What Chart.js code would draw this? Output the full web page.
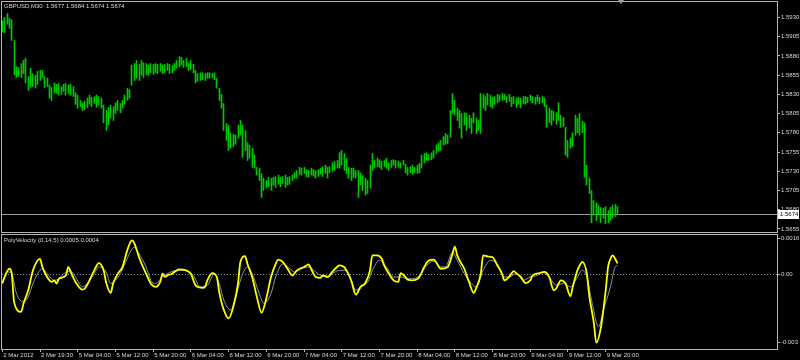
<!DOCTYPE html>
<html>
<head>
<meta charset="utf-8">
<title>GBPUSD,M30</title>
<script src="https://cdn.jsdelivr.net/npm/chart.js@4.4.1/dist/chart.umd.min.js"></script>
<style>
    html, body { margin: 0; padding: 0; background: #000; }
    #wrap { position: relative; width: 800px; height: 360px; overflow: hidden; background: #000; }
    #priceChart { position: absolute; left: 0; top: 0; }
    #velChart { position: absolute; left: 0; top: 233px; }
</style>
</head>
<body>
<div id="wrap">
    <canvas id="priceChart" width="800" height="233"></canvas>
    <canvas id="velChart" width="800" height="127"></canvas>
</div>
<script>
// GBPUSD M30, one entry per bar (bar 0 = 2 Mar 2012 11:30)
var symbolName = 'GBPUSD,M30';
var lastOHLC = [1.5677, 1.5684, 1.5674, 1.5674];

var highs = [
    1.5926,
    1.5930,1.5935,1.5929,1.5927,1.5900,1.5866,1.5865,1.5870,1.5874,1.5877,
    1.5853,1.5864,1.5857,1.5855,1.5860,1.5861,1.5861,1.5853,1.5851,1.5842,
    1.5839,1.5845,1.5843,1.5844,1.5840,1.5843,1.5844,1.5842,1.5843,1.5840,
    1.5832,1.5829,1.5822,1.5819,1.5821,1.5825,1.5829,1.5826,1.5827,1.5829,
    1.5827,1.5825,1.5816,1.5809,1.5813,1.5816,1.5814,1.5819,1.5822,1.5818,
    1.5822,1.5829,1.5838,1.5836,1.5868,1.5870,1.5874,1.5869,1.5874,1.5871,
    1.5870,1.5868,1.5870,1.5869,1.5870,1.5869,1.5870,1.5868,1.5869,1.5870,
    1.5869,1.5868,1.5870,1.5874,1.5879,1.5878,1.5874,1.5877,1.5871,1.5874,
    1.5869,1.5861,1.5857,1.5858,1.5858,1.5857,1.5858,1.5858,1.5857,1.5858,
    1.5851,1.5838,1.5830,1.5818,1.5792,1.5790,1.5780,1.5778,1.5777,1.5790,
    1.5796,1.5790,1.5783,1.5767,1.5764,1.5760,1.5751,1.5735,1.5734,1.5727,
    1.5721,1.5718,1.5722,1.5721,1.5722,1.5723,1.5725,1.5722,1.5723,1.5725,
    1.5722,1.5723,1.5725,1.5728,1.5731,1.5735,1.5734,1.5735,1.5732,1.5731,
    1.5734,1.5732,
    1.5731,1.5732,1.5734,1.5736,1.5738,1.5735,1.5736,1.5741,1.5743,
    1.5744,1.5754,1.5757,1.5753,1.5747,1.5735,1.5734,1.5734,1.5731,1.5731,
    1.5728,1.5725,1.5721,1.5718,1.5738,1.5753,1.5744,1.5747,1.5745,1.5743,
    1.5744,1.5747,1.5741,1.5744,1.5745,1.5744,1.5743,1.5741,1.5744,1.5739,
    1.5735,1.5736,1.5738,1.5735,1.5738,1.5740,1.5751,1.5753,1.5754,1.5752,
    1.5754,1.5757,1.5764,1.5767,1.5770,1.5775,1.5779,1.5777,1.5809,1.5831,
    1.5822,1.5812,1.5809,1.5805,1.5806,1.5805,1.5803,1.5799,1.5806,1.5799,
    1.5796,1.5831,1.5830,1.5827,1.5831,1.5829,1.5826,1.5827,1.5830,1.5829,
    1.5831,1.5830,1.5827,1.5830,1.5826,1.5827,1.5825,1.5826,1.5825,1.5827,
    1.5827,1.5826,1.5829,1.5827,1.5826,1.5829,1.5826,1.5827,1.5825,1.5816,
    1.5812,1.5809,1.5808,1.5806,1.5819,1.5803,1.5800,1.5787,1.5770,1.5773,
    1.5780,1.5803,1.5799,1.5805,1.5795,1.5793,1.5738,1.5721,1.5705,1.5692,
    1.5689,1.5686,1.5683,1.5682,1.5684,1.5679,1.5683,1.5686,1.5687,1.5684
];

var lows = [
    1.5911,
    1.5910,1.5921,1.5916,1.5900,1.5855,1.5852,1.5853,1.5852,1.5857,1.5845,
    1.5835,1.5839,1.5840,1.5838,1.5843,1.5848,1.5852,1.5839,1.5840,1.5825,
    1.5822,1.5832,1.5831,1.5829,1.5830,1.5834,1.5829,1.5831,1.5829,1.5827,
    1.5817,1.5812,1.5814,1.5809,1.5810,1.5813,1.5817,1.5814,1.5818,1.5813,
    1.5816,1.5812,1.5793,1.5783,1.5790,1.5799,1.5796,1.5805,1.5809,1.5806,
    1.5812,1.5817,1.5822,1.5825,1.5842,1.5848,1.5851,1.5848,1.5855,1.5852,
    1.5855,1.5855,1.5858,1.5856,1.5858,1.5857,1.5860,1.5857,1.5858,1.5861,
    1.5857,1.5858,1.5861,1.5864,1.5866,1.5868,1.5865,1.5866,1.5861,1.5862,
    1.5858,1.5845,1.5847,1.5848,1.5849,1.5848,1.5851,1.5851,1.5852,1.5849,
    1.5838,1.5822,1.5812,1.5783,1.5770,1.5757,1.5760,1.5762,1.5765,1.5773,
    1.5777,1.5748,1.5757,1.5744,1.5747,1.5735,1.5734,1.5725,1.5718,1.5696,
    1.5705,1.5708,1.5710,1.5705,1.5712,1.5709,1.5713,1.5710,1.5714,1.5709,
    1.5712,1.5713,1.5718,1.5721,1.5721,1.5726,1.5725,1.5727,1.5723,1.5722,
    1.5725,1.5724,
    1.5721,1.5723,1.5726,1.5723,1.5727,1.5721,1.5728,1.5730,1.5731,
    1.5734,1.5734,1.5738,1.5731,1.5727,1.5721,1.5718,1.5722,1.5721,1.5696,
    1.5712,1.5705,1.5699,1.5701,1.5708,1.5731,1.5734,1.5736,1.5735,1.5732,
    1.5736,1.5734,1.5731,1.5735,1.5738,1.5734,1.5735,1.5734,1.5738,1.5728,
    1.5725,1.5728,1.5726,1.5728,1.5727,1.5728,1.5734,1.5741,1.5744,1.5744,
    1.5745,1.5747,1.5753,1.5756,1.5757,1.5764,1.5765,1.5766,1.5774,1.5805,
    1.5803,1.5796,1.5786,1.5773,1.5790,1.5783,1.5786,1.5779,1.5793,1.5779,
    1.5783,1.5779,1.5812,1.5809,1.5816,1.5814,1.5812,1.5817,1.5819,1.5821,
    1.5822,1.5823,1.5819,1.5821,1.5814,1.5818,1.5813,1.5817,1.5812,1.5818,
    1.5817,1.5819,1.5822,1.5819,1.5817,1.5821,1.5818,1.5819,1.5814,1.5787,
    1.5793,1.5790,1.5796,1.5791,1.5796,1.5787,1.5788,1.5751,1.5748,1.5760,
    1.5762,1.5777,1.5780,1.5777,1.5780,1.5722,1.5712,1.5701,1.5663,1.5673,
    1.5666,1.5674,1.5663,1.5669,1.5662,1.5663,1.5666,1.5669,1.5671,1.5674
];

var priceTicks = [1.5655, 1.5680, 1.5705, 1.5730, 1.5755, 1.5780, 1.5805, 1.5830, 1.5855, 1.5880, 1.5905, 1.5930];

// PolyVelocity (0,14,5): bar index + value for each line
var velName = 'PolyVelocity (0,14,5)';
var yellowBars = [0,1,3,4,5,8,9,11,13,16,17,19,21,22,23,24,27,28,29,31,34,35,37,39,41,43,44,46,47,49,
    51,53,55,56,58,61,63,65,67,68,69,70,72,73,75,78,80,82,85,86,87,89,91,92,94,96,98,100,101,103,
    104,106,108,110,112,114,116,117,119,121,123,125,128,130,131,133,135,136,138,140,142,143,145,146,148,150,152,154,156,157,
    159,161,162,164,166,168,169,171,172,174,177,179,181,183,184,186,189,191,192,193,196,198,200,201,203,204,206,208,210,212,
    213,215,217,218,220,222,224,225,228,230,232,234,235,237,239,241,242,244,245,246,248,249,251,252,254,256,257,258,259,260,261];
var yellowVals = [
    -0.00039,-0.00010,0.00026,0.00004,-0.00120,-0.00164,-0.00127,-0.00069,0.00019,0.00070,
    0.00034,-0.00010,-0.00032,-0.00025,-0.00039,-0.00018,-0.00003,0.00034,0.00012,-0.00032,
    -0.00066,-0.00061,-0.00025,0.00019,0.00051,0.00019,-0.00032,-0.00080,-0.00039,0.00004,
    0.00034,0.00107,0.00151,0.00139,0.00077,0.00004,-0.00039,-0.00054,-0.00032,0.00004,
    -0.00010,-0.00003,0.00004,0.00012,0.00023,0.00019,0.00004,-0.00047,-0.00058,-0.00054,
    -0.00025,0.00007,-0.00010,-0.00076,-0.00156,-0.00193,-0.00142,-0.00039,0.00056,0.00082,
    0.00048,-0.00010,-0.00098,-0.00168,-0.00105,-0.00010,0.00048,0.00066,0.00056,0.00026,
    -0.00003,0.00019,0.00034,0.00045,0.00026,-0.00010,-0.00014,-0.00003,-0.00010,0.00012,
    0.00034,0.00041,0.00034,0.00019,-0.00025,-0.00088,-0.00054,-0.00037,0.00019,0.00085,
    0.00085,0.00070,0.00041,0.00004,-0.00025,-0.00032,0.00007,-0.00010,-0.00022,-0.00025,
    -0.00010,0.00034,0.00063,0.00066,0.00056,0.00026,0.00034,0.00092,0.00124,0.00085,
    0.00026,-0.00032,-0.00080,-0.00061,0.00004,0.00085,0.00080,0.00077,0.00041,0.00004,
    -0.00025,-0.00010,0.00016,0.00007,-0.00010,-0.00037,-0.00025,-0.00003,0.00007,0.00012,
    -0.00010,-0.00069,-0.00061,-0.00025,-0.00039,-0.00095,-0.00054,0.00019,0.00041,0.00056,
    0.00004,-0.00091,-0.00215,-0.00300,-0.00230,-0.00069,0.00034,0.00070,0.00085,0.00070,
    0.00050
];
var grayBars = [0,2,4,6,9,11,13,17,19,22,24,26,29,31,34,36,39,41,44,46,48,50,52,56,58,61,63,65,68,70,
    74,77,81,84,87,90,92,94,97,99,102,104,106,109,111,114,116,119,122,124,127,130,133,135,138,140,143,146,148,150,
    152,155,157,160,163,166,169,172,174,177,180,183,186,188,191,193,196,199,201,204,
    207,210,213,215,218,221,224,227,229,232,235,238,241,244,246,248,250,253,255,258,260,261];
var grayVals = [
    -0.00039,0.00012,0.00004,-0.00083,-0.00120,-0.00098,-0.00039,0.00026,0.00004,-0.00025,
    -0.00018,0.00004,0.00016,-0.00010,-0.00054,-0.00039,0.00004,0.00034,0.00012,-0.00039,
    -0.00025,0.00004,0.00048,0.00121,0.00092,0.00034,-0.00025,-0.00039,-0.00010,0.00004,
    0.00019,0.00019,-0.00003,-0.00054,-0.00047,0.00004,-0.00039,-0.00113,-0.00156,-0.00098,
    0.00004,0.00034,0.00004,-0.00083,-0.00127,-0.00083,-0.00010,0.00048,0.00026,0.00012,
    0.00026,0.00034,0.00012,-0.00003,-0.00010,0.00004,0.00019,0.00019,-0.00025,-0.00069,
    -0.00054,-0.00032,0.00019,0.00063,0.00034,-0.00010,-0.00010,-0.00018,-0.00018,-0.00003,
    0.00041,0.00060,0.00034,0.00034,0.00099,0.00063,0.00004,-0.00039,-0.00054,0.00019,
    0.00063,0.00048,-0.00010,-0.00010,0.00004,-0.00025,-0.00010,-0.00003,0.00012,-0.00010,
    -0.00047,-0.00039,-0.00054,-0.00010,0.00019,-0.00010,-0.00113,-0.00230,-0.00156,-0.00054,
    0.00034,0.00040
];
var velTicks = [0.0016, 0, -0.003];
var velTickLabels = ['0.0016', '0.00', '-0.003'];

var timeBars = [0, 16, 32, 48, 64, 80, 96, 112, 128, 144, 160, 176, 192, 208, 224, 240, 256];
var timeLabels = ['2 Mar 2012', '2 Mar 19:30', '5 Mar 04:00', '5 Mar 12:00', '5 Mar 20:00', '6 Mar 04:00',
    '6 Mar 12:00', '6 Mar 20:00', '7 Mar 04:00', '7 Mar 12:00', '7 Mar 20:00', '8 Mar 04:00',
    '8 Mar 12:00', '8 Mar 20:00', '9 Mar 04:00', '9 Mar 12:00', '9 Mar 20:00'];

var barColor = '#00c800',
    frameColor = '#b4b4b4',
    textColor = '#d8d8d8',
    xMin = -0.13, xMax = 328.67,
    smallFont = { family: "'Liberation Sans', Arial, sans-serif", size: 6 };

function drawFrame(chart) {
    var ctx = chart.ctx, a = chart.chartArea;
    ctx.save();
    ctx.strokeStyle = frameColor;
    ctx.lineWidth = 1;
    ctx.strokeRect(a.left - 0.5, a.top - 0.5, a.right - a.left + 1, a.bottom - a.top + 1);
    ctx.restore();
}

function drawLabel(chart, text, x, y) {
    var ctx = chart.ctx;
    ctx.save();
    ctx.font = smallFont.size + 'px ' + smallFont.family;
    ctx.fillStyle = textColor;
    ctx.textBaseline = 'middle';
    ctx.fillText(text, x, y);
    ctx.restore();
}

// fixed axis sizes, no label padding pushed into the plot area
function fixWidth(s) {
    s.width = 23;
    s.paddingTop = 0; s.paddingBottom = 0; s.paddingLeft = 0; s.paddingRight = 0;
}
function fixHeight(s) {
    s.height = 11;
    s.paddingTop = 0; s.paddingBottom = 0; s.paddingLeft = 0; s.paddingRight = 0;
}

var priceOverlay = {
    id: 'priceOverlay',
    beforeDatasetsDraw: function (chart) {
        var ctx = chart.ctx, a = chart.chartArea;
        // snap each 1px bar onto a whole pixel column
        chart.getDatasetMeta(0).data.forEach(function (el) { el.x = Math.floor(el.x) + 0.5; });

        var y = Math.round(chart.scales.y.getPixelForValue(lastOHLC[3])) + 0.5;
        ctx.save();
        ctx.strokeStyle = '#a0a0a0';
        ctx.lineWidth = 1;
        ctx.beginPath();
        ctx.moveTo(a.left, y);
        ctx.lineTo(a.right, y);
        ctx.stroke();
        ctx.restore();
    },
    afterDraw: function (chart) {
        var ctx = chart.ctx, a = chart.chartArea;
        drawFrame(chart);

        // bid label on the price scale
        var y = Math.round(chart.scales.y.getPixelForValue(lastOHLC[3]));
        ctx.save();
        ctx.fillStyle = '#ffffff';
        ctx.fillRect(a.right + 1, y - 4, 21, 9);
        ctx.font = smallFont.size + 'px ' + smallFont.family;
        ctx.fillStyle = '#000000';
        ctx.textBaseline = 'middle';
        ctx.fillText(lastOHLC[3].toFixed(4), a.right + 3, y + 0.5);

        // chart shift marker
        var sx = chart.scales.x.getPixelForValue(highs.length + 0.5);
        ctx.fillStyle = '#a0a0a0';
        ctx.beginPath();
        ctx.moveTo(sx - 3, 0);
        ctx.lineTo(sx + 3, 0);
        ctx.lineTo(sx, 4);
        ctx.closePath();
        ctx.fill();
        ctx.restore();

        drawLabel(chart, symbolName + '  ' + lastOHLC.map(function (v) { return v.toFixed(4); }).join(' '), a.left + 2, a.top + 4);
    }
};

var velOverlay = {
    id: 'velOverlay',
    afterDraw: function (chart) {
        var a = chart.chartArea;
        drawFrame(chart);
        drawLabel(chart, velName + ' ' + yellowVals[yellowVals.length - 1].toFixed(4) + ' ' +
            grayVals[grayVals.length - 1].toFixed(4), a.left + 2, a.top + 5);
    }
};

var priceChart = new Chart(document.getElementById('priceChart'), {
    type: 'bar',
    data: {
        datasets: [{
            data: highs.map(function (h, i) { return { x: i, y: [lows[i], h] }; }),
            backgroundColor: barColor,
            borderWidth: 0,
            barThickness: 1
        }]
    },
    options: {
        responsive: false,
        animation: false,
        layout: { padding: { left: 2, top: 2, right: 0, bottom: 1 } },
        plugins: { legend: { display: false }, tooltip: { enabled: false } },
        scales: {
            x: { type: 'linear', display: false, min: xMin, max: xMax, offset: false },
            y: {
                position: 'right',
                min: 1.5651,
                max: 1.5950,
                afterBuildTicks: function (s) { s.ticks = priceTicks.map(function (v) { return { value: v }; }); },
                afterFit: fixWidth,
                grid: { drawOnChartArea: false, tickLength: 3, color: frameColor },
                border: { display: false },
                ticks: {
                    color: textColor,
                    font: smallFont,
                    padding: 1,
                    callback: function (v) { return v.toFixed(4); }
                }
            }
        }
    },
    plugins: [priceOverlay]
});

var velChart = new Chart(document.getElementById('velChart'), {
    type: 'line',
    data: {
        datasets: [{
            data: yellowBars.map(function (b, k) { return { x: b, y: yellowVals[k] }; }),
            borderColor: '#ffff00',
            borderWidth: 1.8,
            pointRadius: 0,
            cubicInterpolationMode: 'monotone',
            fill: false
        }, {
            data: grayBars.map(function (b, k) { return { x: b, y: grayVals[k] }; }),
            borderColor: '#8899a6',
            borderWidth: 1,
            pointRadius: 0,
            cubicInterpolationMode: 'monotone',
            fill: false
        }]
    },
    options: {
        responsive: false,
        animation: false,
        layout: { padding: { left: 2, top: 2, right: 0, bottom: 0 } },
        plugins: { legend: { display: false }, tooltip: { enabled: false } },
        scales: {
            x: {
                type: 'linear',
                min: xMin,
                max: xMax,
                afterBuildTicks: function (s) { s.ticks = timeBars.map(function (v) { return { value: v }; }); },
                afterFit: fixHeight,
                grid: { drawOnChartArea: false, tickLength: 3, color: frameColor },
                border: { display: false },
                ticks: {
                    color: textColor,
                    font: smallFont,
                    autoSkip: false,
                    maxRotation: 0,
                    minRotation: 0,
                    align: 'start',
                    labelOffset: 1,
                    padding: 0,
                    callback: function (v) { return timeLabels[timeBars.indexOf(v)]; }
                }
            },
            y: {
                position: 'right',
                min: -0.00328,
                max: 0.00175,
                afterBuildTicks: function (s) { s.ticks = velTicks.map(function (v) { return { value: v }; }); },
                afterFit: fixWidth,
                grid: {
                    tickLength: 3,
                    tickColor: frameColor,
                    color: function (c) { return c.tick && c.tick.value === 0 ? '#8c8c8c' : 'rgba(0,0,0,0)'; }
                },
                border: { display: false, dash: [1, 2] },
                ticks: {
                    color: textColor,
                    font: smallFont,
                    padding: 1,
                    callback: function (v, i) { return velTickLabels[i]; }
                }
            }
        }
    },
    plugins: [velOverlay]
});
</script>
</body>
</html>
